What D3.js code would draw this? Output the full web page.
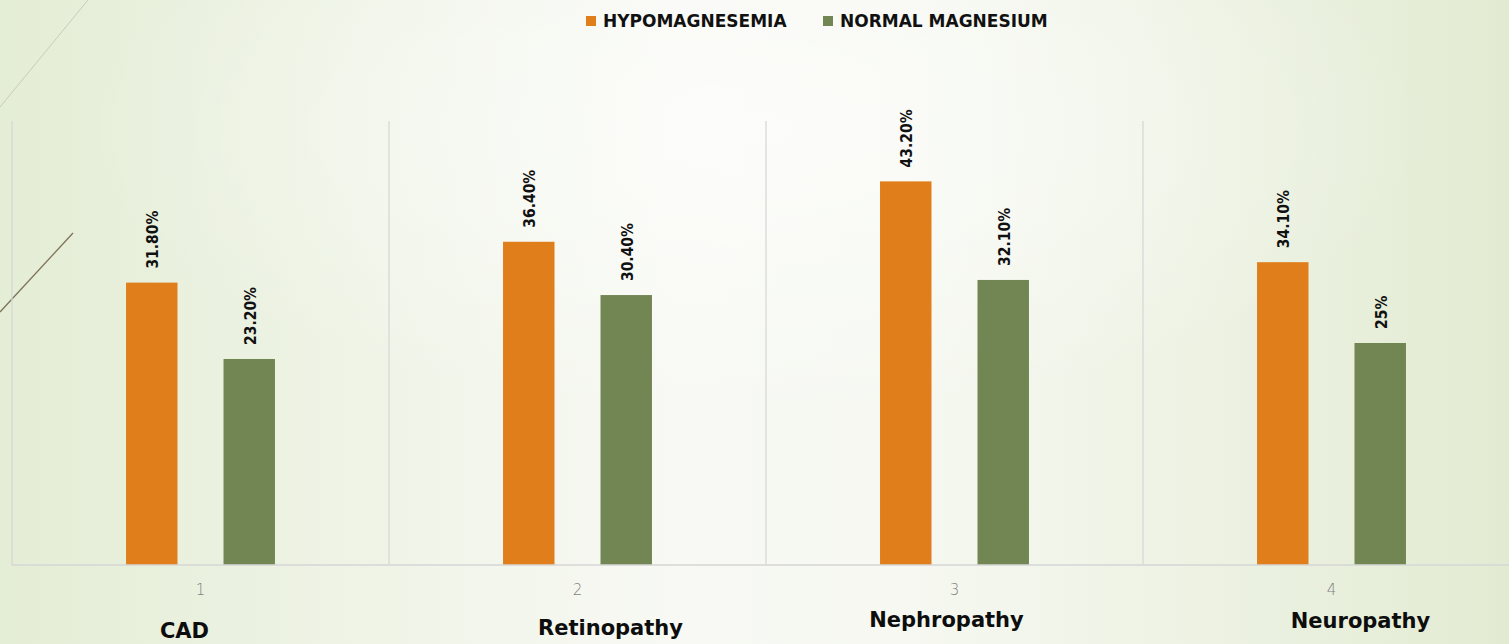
<!DOCTYPE html>
<html>
<head>
<meta charset="utf-8">
<script src="https://cdn.jsdelivr.net/npm/d3@7"></script>
<style>
  html, body { margin: 0; padding: 0; overflow: hidden; }
  svg { display: block; }
</style>
</head>
<body>
<div id="chart"></div>
<script>
// chart data
const categories = ["1", "2", "3", "4"];
const categoryNames = ["CAD", "Retinopathy", "Nephropathy", "Neuropathy"];
const seriesNames = ["HYPOMAGNESEMIA", "NORMAL MAGNESIUM"];
const hypoValues = [31.8, 36.4, 43.2, 34.1];
const normalValues = [23.2, 30.4, 32.1, 25];
const hypoLabels = ["31.80%", "36.40%", "43.20%", "34.10%"];
const normalLabels = ["23.20%", "30.40%", "32.10%", "25%"];

// layout
const W = 1509, H = 644;
const plot = { left: 12, right: 1520, top: 121, bottom: 565 };
const colors = ["#df7e1a", "#728653"];
// the category names are free text boxes, nudged from the band centre
const nameOffsets = [[-16, 638], [33, 635], [-8, 627], [29, 628]];

const svg = d3.select("#chart").append("svg")
  .attr("width", W)
  .attr("height", H);

// soft green background, lighter towards the middle
const defs = svg.append("defs");
const grad = defs.append("linearGradient")
  .attr("id", "bg")
  .attr("x1", "0%").attr("x2", "100%")
  .attr("y1", "0%").attr("y2", "0%");
[["0%", "#e4edd5"], ["22%", "#eef3e5"], ["45%", "#f8f9f4"], ["60%", "#f6f8f1"],
 ["80%", "#edf2e3"], ["100%", "#e2ebd2"]].forEach(s =>
  grad.append("stop").attr("offset", s[0]).attr("stop-color", s[1]));

const glow = defs.append("radialGradient")
  .attr("id", "glow")
  .attr("cx", "50%").attr("cy", "20%").attr("r", "45%");
glow.append("stop").attr("offset", "0%").attr("stop-color", "#ffffff").attr("stop-opacity", 0.6);
glow.append("stop").attr("offset", "100%").attr("stop-color", "#ffffff").attr("stop-opacity", 0);

svg.append("rect")
  .attr("width", W)
  .attr("height", H)
  .attr("fill", "url(#bg)");
svg.append("rect")
  .attr("width", W)
  .attr("height", H)
  .attr("fill", "url(#glow)");

// decorative strokes top left
svg.append("line")
  .attr("x1", 0).attr("y1", 107).attr("x2", 88).attr("y2", 0)
  .attr("stroke", "#c9cbb9").attr("stroke-width", 1);
svg.append("line")
  .attr("x1", 0).attr("y1", 312).attr("x2", 73).attr("y2", 233)
  .attr("stroke", "#7d7258").attr("stroke-width", 1.3);

// scales
const x0 = d3.scaleBand()
  .domain(categories)
  .range([plot.left, plot.right])
  .paddingInner(0)
  .paddingOuter(0);

const x1 = d3.scaleBand()
  .domain(seriesNames)
  .range([0, x0.bandwidth()])
  .paddingInner(0.472)
  .paddingOuter(1.17);

const y = d3.scaleLinear()
  .domain([0, 50])
  .range([plot.bottom, plot.top]);

// vertical gridlines between categories
const bounds = categories.map(c => x0(c)).concat([plot.right]);
svg.append("g")
  .selectAll("line")
  .data(bounds)
  .join("line")
  .attr("x1", d => d).attr("x2", d => d)
  .attr("y1", plot.top).attr("y2", plot.bottom)
  .attr("stroke", "#d6d6d6")
  .attr("stroke-width", 1.2);

// bars
const rows = categories.map((c, i) => ({
  cat: c,
  values: [
    { series: seriesNames[0], value: hypoValues[i], label: hypoLabels[i], color: colors[0] },
    { series: seriesNames[1], value: normalValues[i], label: normalLabels[i], color: colors[1] }
  ]
}));

const groups = svg.append("g")
  .selectAll("g")
  .data(rows)
  .join("g")
  .attr("transform", d => `translate(${x0(d.cat)},0)`);

groups.selectAll("rect")
  .data(d => d.values)
  .join("rect")
  .attr("x", d => x1(d.series))
  .attr("y", d => y(d.value))
  .attr("width", x1.bandwidth())
  .attr("height", d => y(0) - y(d.value))
  .attr("fill", d => d.color);

// rotated value labels
groups.selectAll("text")
  .data(d => d.values)
  .join("text")
  .attr("transform", d => `translate(${x1(d.series) + x1.bandwidth() / 2 + 1},${y(d.value) - 14}) rotate(-90)`)
  .attr("dy", "0.36em")
  .attr("text-anchor", "start")
  .style("font-family", "'DejaVu Sans Condensed', 'DejaVu Sans', sans-serif")
  .style("font-weight", "bold")
  .style("font-size", "15.5px")
  .style("fill", "#111")
  .text(d => d.label);

// baseline axis
svg.append("line")
  .attr("x1", plot.left).attr("x2", plot.right)
  .attr("y1", plot.bottom).attr("y2", plot.bottom)
  .attr("stroke", "#d6d6d6")
  .attr("stroke-width", 1.6);

// category numbers
svg.append("g")
  .selectAll("text")
  .data(categories)
  .join("text")
  .attr("x", d => x0(d) + x0.bandwidth() / 2)
  .attr("y", 595)
  .attr("text-anchor", "middle")
  .style("font-family", "'DejaVu Sans', sans-serif")
  .style("font-size", "15px")
  .style("font-weight", "300")
  .style("fill", "#7f7f7f")
  .text(d => d);

// category names
svg.append("g")
  .selectAll("text")
  .data(categoryNames)
  .join("text")
  .attr("x", (d, i) => x0(categories[i]) + x0.bandwidth() / 2 + nameOffsets[i][0])
  .attr("y", (d, i) => nameOffsets[i][1])
  .attr("text-anchor", "middle")
  .style("font-family", "'DejaVu Sans', sans-serif")
  .style("font-weight", "bold")
  .style("font-size", "21px")
  .style("fill", "#0d0d0d")
  .text(d => d);

// legend
const legendX = [586, 823];
const legend = svg.append("g")
  .selectAll("g")
  .data(seriesNames)
  .join("g")
  .attr("transform", (d, i) => `translate(${legendX[i]},16)`);

legend.append("rect")
  .attr("width", 10)
  .attr("height", 10)
  .attr("fill", (d, i) => colors[i]);

legend.append("text")
  .attr("x", 17)
  .attr("y", 11)
  .style("font-family", "'DejaVu Sans', sans-serif")
  .style("font-weight", "bold")
  .style("font-size", "17px")
  .style("fill", "#111")
  .text(d => d);
</script>
</body>
</html>
